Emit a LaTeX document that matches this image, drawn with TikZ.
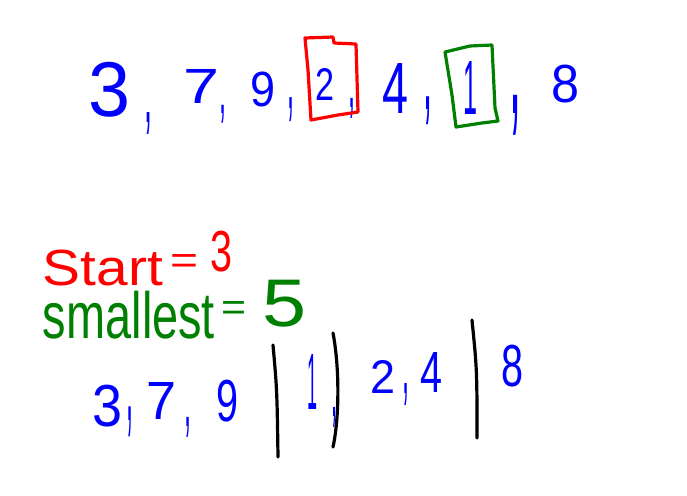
\documentclass[tikz,border=0pt]{standalone}
\usepackage{fontspec}
\setmainfont{Liberation Sans}
\usepackage{graphicx}
\newcommand\hwr[3]{\resizebox*{\dimexpr #1pt*3/4\relax}{\dimexpr #2pt*3/4\relax}{#3}}
\definecolor{inkblue}{RGB}{0,0,255}
\definecolor{inkred}{RGB}{255,0,0}
\definecolor{inkgreen}{RGB}{0,128,0}
\tikzset{
  glyph/.style={inner sep=0pt, outer sep=0pt, anchor=center},
  bl/.style={glyph, text=inkblue},
  rd/.style={glyph, text=inkred},
  gn/.style={glyph, text=inkgreen},
  pen/.style={line width=2.4pt, line cap=round, line join=round},
}
\begin{document}
\begin{tikzpicture}[x=0.75pt, y=-0.75pt]
\fill[white] (0,0) rectangle (687,496);
\useasboundingbox (0,0) rectangle (687,496);

% top row
\node[bl] (t3)  at (110,90)  {\hwr{42}{55}{3}};
\node[bl] (tc1) at (148,123) {\hwr{8}{22}{,}};
\node[bl] (t7)  at (202,86)  {\hwr{36}{34}{7}};
\node[bl] (tc2) at (223,114) {\hwr{7}{18}{,}};
\node[bl] (t9)  at (263,89)  {\hwr{25}{35}{9}};
\node[bl] (tc3) at (291,110) {\hwr{7}{24}{,}};
\node[bl] (t2)  at (325,84)  {\hwr{19}{32}{2}};
\node[bl] (tc4) at (352,108) {\hwr{7}{20}{,}};
\node[bl] (t4)  at (396,88)  {\hwr{26}{50}{4}};
\node[bl] (tc5) at (428,111) {\hwr{9}{28}{,}};
\node[bl] (t1)  at (470,88)  {\hwr{14}{53}{1}};
\node[bl] (tc6) at (515,115) {\hwr{12}{40}{,}};
\node[bl] (t8)  at (566,84)  {\hwr{28}{38}{8}};

% boxes
\draw[pen, inkred] (305,38) -- (333,37) -- (334,43) -- (356,44) -- (358,112)
  -- (338,115) -- (311,120) -- (308,70) -- cycle;
\draw[pen, inkgreen] (445,52) -- (470,46) -- (492,45) -- (495,108) -- (498,121)
  -- (482,123) -- (456,127) -- (452,95) -- cycle;

% start / smallest
\node[rd] (start) at (103,268) {\hwr{120}{36}{Start}};
\node[rd] (eq1)   at (184,264) {\hwr{28}{19}{=}};
\node[rd] (s3)    at (222,252) {\hwr{22}{41}{3}};
\node[gn] (small) at (129,315) {\hwr{172}{48}{smallest}};
\node[gn] (eq2)   at (234,311) {\hwr{25}{19}{=}};
\node[gn] (s5)    at (285,304) {\hwr{44}{47}{5}};

% bottom row
\node[bl] (b3)  at (108,406) {\hwr{30}{42}{3}};
\node[bl] (bc1) at (130,422) {\hwr{7}{30}{,}};
\node[bl] (b7)  at (162,401) {\hwr{30}{37}{7}};
\node[bl] (bc2) at (188,427) {\hwr{7}{20}{,}};
\node[bl] (b9)  at (228,401) {\hwr{22}{42}{9}};
\node[bl] (b1)  at (312,382) {\hwr{10}{55}{1}};
\node[bl] (bc3) at (334,417) {\hwr{6}{20}{,}};
\node[bl] (b2)  at (383,377) {\hwr{25}{33}{2}};
\node[bl] (bc4) at (406,394) {\hwr{7}{22}{,}};
\node[bl] (b4)  at (432,372) {\hwr{22}{40}{4}};
\node[bl] (b8)  at (512,366) {\hwr{22}{42}{8}};

% separators
\draw[pen, black] (273,345) .. controls (277,390) .. (278,457);
\draw[pen, black] (333,333) .. controls (340,370) and (339,420) .. (333,447);
\draw[pen, black] (472,320) .. controls (477,370) .. (477,438);
\end{tikzpicture}
\end{document}
